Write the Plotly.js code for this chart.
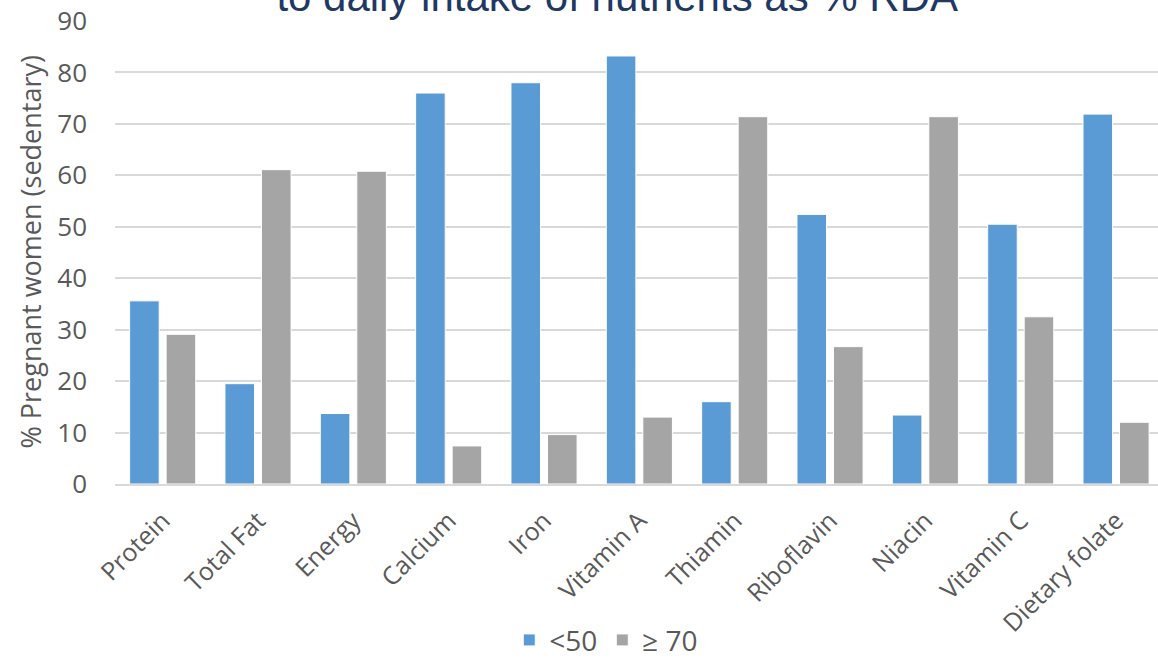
<!DOCTYPE html>
<html>
<head>
<meta charset="utf-8">
<script src="https://cdn.plot.ly/plotly-3.0.1.min.js"></script>
<style>html,body{margin:0;padding:0;background:#fff;}#chart{width:1158px;height:658px;}</style>
</head>
<body>
<div id="chart"></div>
<script>
var categories = ["Protein","Total Fat","Energy","Calcium","Iron","Vitamin A","Thiamin","Riboflavin","Niacin","Vitamin C","Dietary folate"];
var below50 = [35.6, 19.5, 13.7, 76.0, 78.0, 83.2, 16.0, 52.4, 13.4, 50.5, 71.9];
var atLeast70 = [29.1, 61.1, 60.8, 7.4, 9.6, 13.0, 71.4, 26.7, 71.4, 32.5, 12.0];
var seriesNames = ["<50", "\u2265 70"];
var titleText = "to daily intake of nutrients as % RDA";
var yTitle = "% Pregnant women (sedentary)";

var font = "Open Sans, Segoe UI, sans-serif";
var traces = [
  {type:"bar", name:seriesNames[0], x:categories, y:below50,
   marker:{color:"#5B9BD5", line:{color:"#ffffff", width:1}}},
  {type:"bar", name:seriesNames[1], x:categories, y:atLeast70,
   marker:{color:"#A5A5A5", line:{color:"#ffffff", width:1}}}
];
var layout = {
  width:1158, height:658, autosize:false,
  margin:{l:115, r:0, t:21, b:174, autoexpand:false},
  paper_bgcolor:"#fff", plot_bgcolor:"#fff",
  barmode:"group", bargap:0.234, bargroupgap:0.19,
  title:{text:titleText, font:{family:"Liberation Sans, Arial, sans-serif", size:42, color:"#1F3864"},
         x:0.533, xanchor:"center", yref:"container", y:0.984, yanchor:"bottom"},
  xaxis:{range:[-0.5, 10.44], tickangle:-45, tickfont:{family:font, size:25, color:"#595959"},
         showline:true, linecolor:"#D9D9D9", linewidth:2, ticks:"", automargin:false,
         ticklabelstandoff:10},
  yaxis:{range:[0,90], dtick:10, tickfont:{family:font, size:26, color:"#595959"},
         gridcolor:"#D9D9D9", gridwidth:2, zeroline:false, showline:false, ticks:"",
         ticklabelstandoff:27, automargin:false},
  annotations:[{text:yTitle, textangle:-90, xref:"paper", yref:"paper",
                x:-85/1043, y:0.5, xanchor:"center", yanchor:"middle", showarrow:false,
                font:{family:font, size:27, color:"#595959"}}],
  showlegend:true,
  legend:{orientation:"h", x:0.471, xanchor:"center", yref:"container", y:0.027, yanchor:"middle",
          font:{family:font, size:28, color:"#595959"}, itemwidth:30, traceorder:"normal"}
};
Plotly.newPlot("chart", traces, layout, {displayModeBar:false, staticPlot:true});
</script>
</body>
</html>
